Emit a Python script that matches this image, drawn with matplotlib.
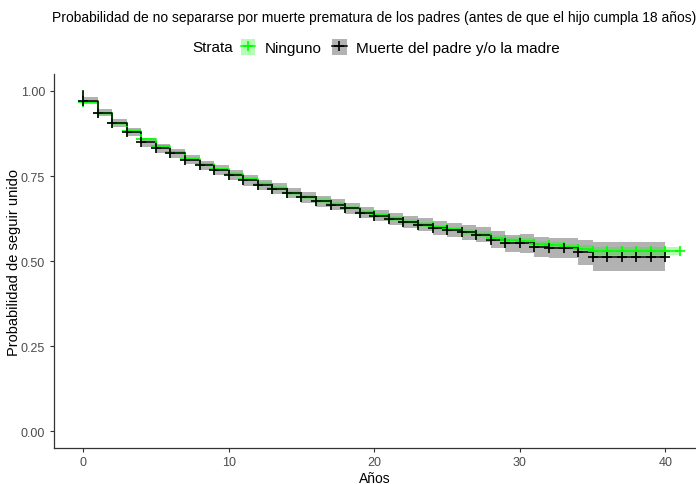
import numpy as np
import matplotlib
matplotlib.use('Agg')
import matplotlib.pyplot as plt
from matplotlib.lines import Line2D
from matplotlib.patches import Patch

plt.rcParams['font.family'] = ['Liberation Sans', 'DejaVu Sans']

# valores (supervivencia en [t, t+1))
anios_muerte = np.arange(0, 41)
surv_muerte = [0.971, 0.936, 0.907, 0.880, 0.849, 0.831, 0.817, 0.798, 0.781, 0.767,
               0.753, 0.737, 0.723, 0.713, 0.699, 0.687, 0.676, 0.665, 0.655, 0.642,
               0.633, 0.624, 0.614, 0.607, 0.597, 0.592, 0.584, 0.578, 0.563, 0.552,
               0.552, 0.542, 0.539, 0.539, 0.526, 0.513, 0.513, 0.513, 0.513, 0.513,
               0.513]
ic_muerte = [0.010, 0.011, 0.012, 0.012, 0.013, 0.013, 0.013, 0.014, 0.014, 0.014,
             0.014, 0.015, 0.015, 0.015, 0.015, 0.016, 0.016, 0.016, 0.016, 0.016,
             0.016, 0.017, 0.018, 0.019, 0.020, 0.021, 0.022, 0.022, 0.024, 0.026,
             0.028, 0.029, 0.030, 0.030, 0.037, 0.043, 0.043, 0.043, 0.043, 0.043,
             0.043]

anios_ninguno = np.arange(0, 42)
surv_ninguno = [0.968, 0.934, 0.905, 0.882, 0.858, 0.837, 0.820, 0.801, 0.784, 0.770,
                0.756, 0.740, 0.726, 0.715, 0.701, 0.689, 0.678, 0.667, 0.656, 0.644,
                0.634, 0.626, 0.616, 0.608, 0.599, 0.593, 0.586, 0.580, 0.568, 0.563,
                0.558, 0.549, 0.546, 0.542, 0.536, 0.529, 0.529, 0.529, 0.529, 0.529,
                0.529, 0.529]
ic_ninguno = [0.004, 0.004, 0.004, 0.005, 0.005, 0.005, 0.005, 0.005, 0.005, 0.005,
              0.006, 0.006, 0.006, 0.006, 0.006, 0.006, 0.006, 0.006, 0.006, 0.007,
              0.007, 0.007, 0.007, 0.007, 0.007, 0.007, 0.008, 0.008, 0.008, 0.008,
              0.009, 0.009, 0.009, 0.009, 0.010, 0.012, 0.012, 0.012, 0.012, 0.012,
              0.012, 0.012]

verde = '#00FF00'
negro = '#000000'

fig = plt.figure(figsize=(6.96, 4.85), dpi=100)
ax = fig.add_axes([0.0776, 0.074, 0.9224, 0.7714])

sm = np.array(surv_muerte)
sn = np.array(surv_ninguno)
im = np.array(ic_muerte)
inn = np.array(ic_ninguno)

# bandas de confianza
ax.fill_between(anios_muerte, sm - im, sm + im, step='post', color='black', alpha=0.3, lw=0)
ax.fill_between(anios_ninguno, sn - inn, sn + inn, step='post', color=verde, alpha=0.3, lw=0)

# curvas
ax.step(np.r_[0, anios_ninguno], np.r_[1.0, sn], where='post', color=verde, lw=1.1)
ax.step(np.r_[0, anios_muerte], np.r_[1.0, sm], where='post', color=negro, lw=1.1)

# marcas de censura
ax.plot(anios_ninguno, sn, ls='none', marker='+', ms=6.5, mew=1.2, color=verde)
ax.plot(anios_muerte, sm, ls='none', marker='+', ms=6.5, mew=1.2, color=negro)

ax.set_xlim(-2.0, 42.1)
ax.set_ylim(-0.05, 1.05)
ax.set_xticks([0, 10, 20, 30, 40])
ax.set_yticks([0, 0.25, 0.5, 0.75, 1.0])
ax.set_yticklabels(['0.00', '0.25', '0.50', '0.75', '1.00'])
for s in ['top', 'right']:
    ax.spines[s].set_visible(False)
for s in ['left', 'bottom']:
    ax.spines[s].set_color('#333333')
    ax.spines[s].set_linewidth(0.9)
ax.tick_params(labelsize=9, colors='#333333', labelcolor='#4D4D4D', length=3, width=0.8)
ax.tick_params(axis='x', pad=3)
ax.set_xlabel('Años', fontsize=10, va='bottom')
ax.set_ylabel('Probabilidad de seguir unido', fontsize=10.5, va='center')
ax.xaxis.set_label_coords(0.5, -0.098)
ax.yaxis.set_label_coords(-0.062, 0.5)

fig.text(0.537, 0.962, 'Probabilidad de no separarse por muerte prematura de los padres (antes de que el hijo cumpla 18 años)',
         ha='center', va='center', fontsize=10)

# leyenda
fig.text(0.305, 0.901, 'Strata', ha='center', va='center', fontsize=11)
h1 = (Patch(facecolor=verde, alpha=0.3, lw=0),
      Line2D([], [], color=verde, lw=1.1, marker='+', ms=6.5, mew=1.2))
h2 = (Patch(facecolor='black', alpha=0.3, lw=0),
      Line2D([], [], color=negro, lw=1.1, marker='+', ms=6.5, mew=1.2))
fig.legend([h1, h2], ['Ninguno', 'Muerte del padre y/o la madre'], loc='center left',
           bbox_to_anchor=(0.346, 0.901), ncol=2, frameon=False, fontsize=11,
           handlelength=0.95, handleheight=1.2, handletextpad=0.6, columnspacing=0.7,
           borderaxespad=0, borderpad=0)

fig.savefig('out.png', dpi=100)
